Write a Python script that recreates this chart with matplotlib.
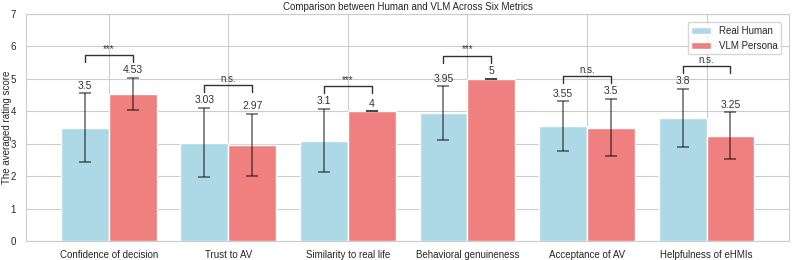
import numpy as np
import matplotlib.pyplot as plt
import seaborn as sns

# Datos
metrics = ['Confidence of decision', 'Trust to AV', 'Similarity to real life',
           'Behavioral genuineness', 'Acceptance of AV', 'Helpfulness of eHMIs']
human_mean = [3.5, 3.03, 3.1, 3.95, 3.55, 3.8]
human_sd = [1.05, 1.07, 0.97, 0.82, 0.76, 0.89]
vlm_mean = [4.53, 2.97, 4.0, 5.0, 3.5, 3.25]
vlm_sd = [0.5, 0.96, 0.0, 0.0, 0.88, 0.72]
signif = ['***', 'n.s.', '***', '***', 'n.s.', 'n.s.']

sns.set_style('whitegrid')
plt.rcParams['font.family'] = ['Liberation Sans', 'DejaVu Sans']

fig, ax = plt.subplots(figsize=(7.93, 2.6), dpi=100)
fig.subplots_adjust(left=0.033, right=0.995, bottom=0.073, top=0.946)

x = np.arange(len(metrics))
w = 0.4
err_kw = dict(ecolor='black', alpha=0.6, capsize=4, elinewidth=1.1, capthick=1.1)
ax.bar(x - w / 2, human_mean, w, yerr=human_sd, color='lightblue', label='Real Human',
       error_kw=err_kw)
ax.bar(x + w / 2, vlm_mean, w, yerr=vlm_sd, color='lightcoral', label='VLM Persona',
       error_kw=err_kw)

# Etiquetas de valores
for i in range(len(metrics)):
    ax.text(x[i] - w / 2, human_mean[i] + human_sd[i] + 0.08, f'{human_mean[i]:g}',
            ha='center', va='bottom', fontsize=7.5, color='#333333')
    ax.text(x[i] + w / 2, vlm_mean[i] + vlm_sd[i] + 0.08, f'{vlm_mean[i]:g}',
            ha='center', va='bottom', fontsize=7.5, color='#333333')

# Corchetes de significancia
for i in range(len(metrics)):
    top = max(human_mean[i] + human_sd[i], vlm_mean[i] + vlm_sd[i]) + 0.5
    ax.plot([x[i] - w / 2, x[i] - w / 2, x[i] + w / 2, x[i] + w / 2],
            [top, top + 0.2, top + 0.2, top], color='#333333', lw=1)
    ax.text(x[i], top + 0.25, signif[i], ha='center', va='bottom', fontsize=7,
            color='#333333')

ax.set_xticks(x)
ax.set_xticklabels(metrics, fontsize=7)
ax.set_ylim(0, 7)
ax.tick_params(axis='y', labelsize=7, pad=4)
ax.tick_params(axis='x', pad=3)
ax.set_ylabel('The averaged rating score', fontsize=7)
ax.yaxis.set_label_coords(-0.019, 0.5)
ax.set_title('Comparison between Human and VLM Across Six Metrics', fontsize=7, pad=3)
ax.legend(loc='upper right', fontsize=7, borderaxespad=0.8)

plt.savefig('out.png', dpi=100)
